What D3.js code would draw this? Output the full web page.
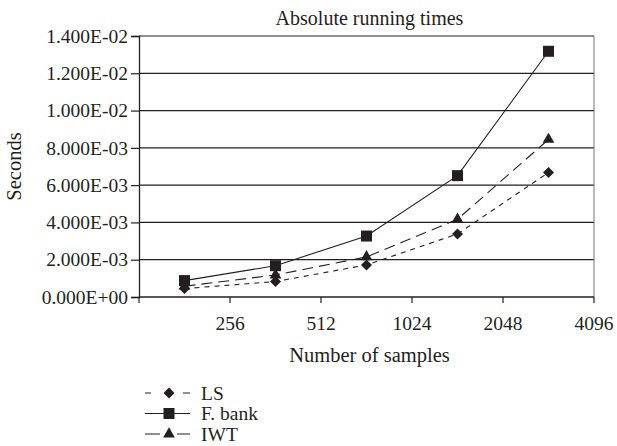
<!DOCTYPE html>
<html>
<head>
<meta charset="utf-8">
<script src="https://cdn.jsdelivr.net/npm/d3@7"></script>
<style>
  body { margin: 0; background: #fff; }
  svg { display: block; }
  text { font-family: "Liberation Serif", "DejaVu Serif", serif; fill: #231f20; }
</style>
</head>
<body>
<svg width="617" height="446"></svg>
<script>
// x categories (labels sit at the right edge of each category band)
const xLabels = ['256', '512', '1024', '2048', '4096'];
const yTicks = [0, 0.002, 0.004, 0.006, 0.008, 0.010, 0.012, 0.014];

const lsValues = [0.00045, 0.00083, 0.00172, 0.00338, 0.00668];
const fbankValues = [0.00088, 0.00168, 0.00327, 0.00651, 0.01318];
const iwtValues = [0.00058, 0.00118, 0.00215, 0.00417, 0.00845];

const seriesNames = ['LS', 'F. bank', 'IWT'];

const series = [
    { name: seriesNames[0], values: lsValues, dash: '5,5', legendDash: '6,32,7', shape: 'diamond' },
    { name: seriesNames[1], values: fbankValues, dash: null, legendDash: null, shape: 'square' },
    { name: seriesNames[2], values: iwtValues, dash: '11,6', legendDash: '15,17,13', shape: 'triangle' }
];

const ink = '#231f20';
const serif = '"Liberation Serif", "DejaVu Serif", serif';
const svg = d3.select('svg');

const margin = { top: 36, right: 23, bottom: 149, left: 139 };
const width = +svg.attr('width');
const height = +svg.attr('height');
const innerWidth = width - margin.left - margin.right;
const innerHeight = height - margin.top - margin.bottom;

const xScale = d3.scaleBand()
    .domain(d3.range(xLabels.length))
    .range([0, innerWidth]);

const yScale = d3.scaleLinear()
    .domain([0, 0.014])
    .range([innerHeight, 0]);

const sciFormat = v => {
    const [m, e] = v.toExponential(3).split('e');
    const n = +e;
    return m + 'E' + (n < 0 ? '-' : '+') + String(Math.abs(n)).padStart(2, '0');
};

const g = svg.append('g')
    .attr('transform', `translate(${margin.left}, ${margin.top})`);

// horizontal grid lines
g.append('g')
    .selectAll('line')
    .data(yTicks.slice(1))
    .enter()
        .append('line')
        .attr('x1', 0)
        .attr('x2', innerWidth)
        .attr('y1', d => yScale(d))
        .attr('y2', d => yScale(d))
        .attr('stroke', ink)
        .attr('stroke-width', 1.2);

// right border
g.append('line')
    .attr('x1', innerWidth).attr('x2', innerWidth)
    .attr('y1', 0).attr('y2', innerHeight)
    .attr('stroke', '#777').attr('stroke-width', 1);

// y axis
const yAxis = d3.axisLeft(yScale)
    .tickValues(yTicks)
    .tickFormat(sciFormat)
    .tickSize(8)
    .tickPadding(3);
const yAxisG = g.append('g').call(yAxis)
    .attr('font-family', serif)
    .attr('font-size', 19.5);
yAxisG.select('.domain').attr('stroke', ink).attr('stroke-width', 1.3);
yAxisG.selectAll('.tick line').attr('stroke', ink).attr('stroke-width', 1.2);
yAxisG.selectAll('.tick text').attr('fill', ink);

// x axis: ticks at band boundaries, labels at right edge of each band
const xBounds = d3.range(xLabels.length + 1).map(i => i * xScale.step());
const xAxisG = g.append('g')
    .attr('transform', `translate(0, ${innerHeight})`);
xAxisG.append('line')
    .attr('x1', 0).attr('x2', innerWidth)
    .attr('stroke', ink).attr('stroke-width', 1.3);
xAxisG.selectAll('line.tick')
    .data(xBounds)
    .enter()
        .append('line')
        .classed('tick', true)
        .attr('x1', d => d).attr('x2', d => d)
        .attr('y1', 0).attr('y2', 6)
        .attr('stroke', ink).attr('stroke-width', 1.2);
xAxisG.selectAll('text')
    .data(xLabels)
    .enter()
        .append('text')
        .text(d => d)
        .attr('x', (d, i) => xScale(i) + xScale.bandwidth())
        .attr('y', 33)
        .attr('text-anchor', 'middle')
        .attr('font-size', 19.5);

// titles
svg.append('text')
    .text('Absolute running times')
    .attr('x', margin.left + innerWidth / 2 + 3)
    .attr('y', 25)
    .attr('text-anchor', 'middle')
    .attr('font-size', 20);

svg.append('text')
    .text('Number of samples')
    .attr('x', margin.left + innerWidth / 2 + 3)
    .attr('y', 362)
    .attr('text-anchor', 'middle')
    .attr('font-size', 20.5);

svg.append('text')
    .text('Seconds')
    .attr('transform', `translate(21, ${margin.top + innerHeight / 2}) rotate(-90)`)
    .attr('text-anchor', 'middle')
    .attr('font-size', 20.5);

// markers
const symbolFor = shape => {
    if (shape === 'square') return d3.symbol(d3.symbolSquare, 121)();
    if (shape === 'triangle') return d3.symbol(d3.symbolTriangle, 60)();
    return d3.symbol(d3.symbolSquare, 60)();
};
const rotFor = shape => shape === 'diamond' ? ' rotate(45)' : '';

const cx = i => xScale(i) + xScale.bandwidth() / 2;

const line = d3.line()
    .x((d, i) => cx(i))
    .y(d => yScale(d));

series.forEach(s => {
    g.append('path')
        .datum(s.values)
        .attr('d', line)
        .attr('fill', 'none')
        .attr('stroke', ink)
        .attr('stroke-width', 1.1)
        .attr('stroke-dasharray', s.dash);
});

series.forEach(s => {
    g.append('g')
        .selectAll('path')
        .data(s.values)
        .enter()
            .append('path')
            .attr('d', symbolFor(s.shape))
            .attr('transform', (d, i) => `translate(${cx(i)}, ${yScale(d)})${rotFor(s.shape)}`)
            .attr('fill', ink);
});

// legend
const legend = svg.append('g')
    .attr('transform', 'translate(145, 393)');
const legendRows = legend.selectAll('g')
    .data(series)
    .enter()
        .append('g')
        .attr('transform', (d, i) => `translate(0, ${i * 20.5})`);
legendRows.append('line')
    .attr('x1', 0).attr('x2', 45)
    .attr('stroke', ink)
    .attr('stroke-width', 1.1)
    .attr('stroke-dasharray', d => d.legendDash);
legendRows.append('path')
    .attr('d', d => symbolFor(d.shape))
    .attr('transform', d => `translate(24, 0)${rotFor(d.shape)}`)
    .attr('fill', ink);
legendRows.append('text')
    .text(d => d.name)
    .attr('x', 56)
    .attr('y', 0)
    .attr('dy', '0.35em')
    .attr('font-size', 19.5);
</script>
</body>
</html>
